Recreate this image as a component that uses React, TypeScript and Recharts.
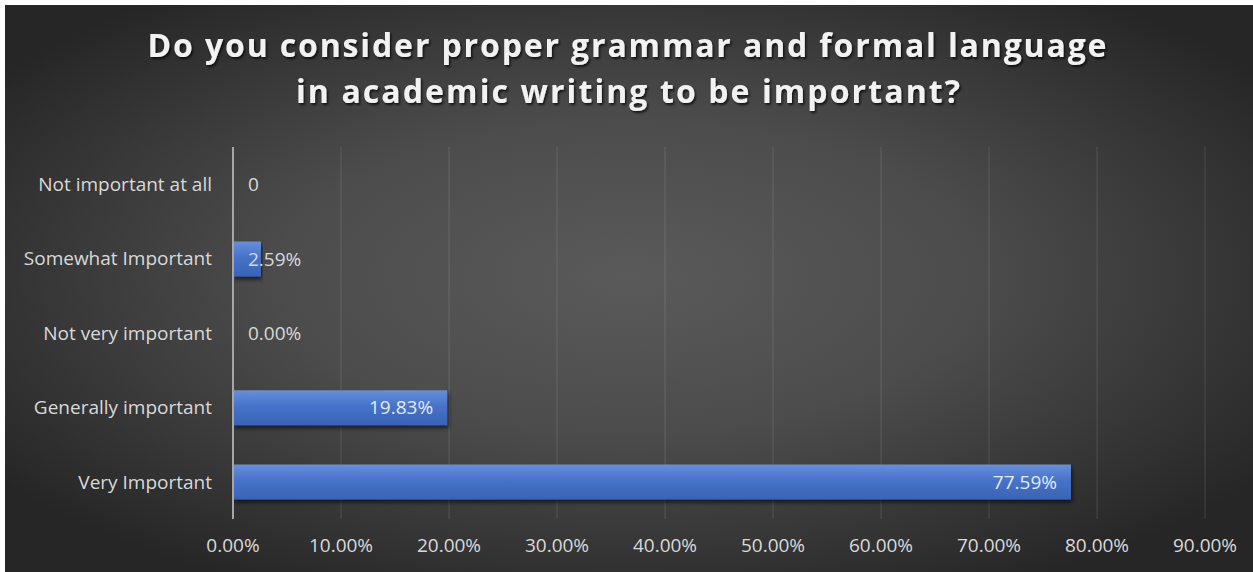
import React from "react";
import { BarChart, Bar, XAxis, YAxis, CartesianGrid, LabelList, Rectangle } from "recharts";

const categories = [
  "Not important at all",
  "Somewhat Important",
  "Not very important",
  "Generally important",
  "Very Important",
];
const values = [0, 0.0259, 0, 0.1983, 0.7759];
const valueLabels = ["0", "2.59%", "0.00%", "19.83%", "77.59%"];
const xTicks = [0, 0.1, 0.2, 0.3, 0.4, 0.5, 0.6, 0.7, 0.8, 0.9];
const titleLines = [
  "Do you consider proper grammar and formal language",
  "in academic writing to be important?",
];

const data = categories.map((c, i) => ({ category: c, value: values[i], label: valueLabels[i] }));

const W = 1253;
const H = 572;
const FONT = "'Open Sans', 'DejaVu Sans', sans-serif";

const renderLabel = (props: any) => {
  const { x, y, width, height, value, index } = props;
  const text = String(value);
  const tw = text.length * 10.8;
  const cy = Number(y) + Number(height) / 2;
  const realZero = values[index] === 0;
  const w = realZero ? 0 : Number(width);
  const fits = w > tw + 24;
  if (fits) {
    return (
      <text x={Number(x) + w - 14} y={cy} dy="0.35em" textAnchor="end"
        fill="#e4ebf7" fontSize={19} fontFamily={FONT}>{text}</text>
    );
  }
  return (
    <text x={Number(x) + 15} y={cy} dy="0.35em" textAnchor="start"
      fill="#d9d9d9" fontSize={19} fontFamily={FONT}>{text}</text>
  );
};

const renderBar = (props: any) => {
  const v = props.payload ? props.payload.value : props.value;
  if (!v) return <g />;
  return <Rectangle {...props} />;
};

export default function App() {
  return (
    <div style={{ position: "absolute", left: 0, top: 0, width: W, height: H, background: "#ffffff" }}>
      <svg width={W} height={H} style={{ position: "absolute", left: 0, top: 0 }}>
        <defs>
          <radialGradient id="bgGrad" cx="50%" cy="48%" r="62%">
            <stop offset="0%" stopColor="#5a5a5a" />
            <stop offset="45%" stopColor="#4c4c4c" />
            <stop offset="100%" stopColor="#262626" />
          </radialGradient>
          <filter id="titleShadow" x="-5%" y="-20%" width="110%" height="140%">
            <feDropShadow dx="1.5" dy="2" stdDeviation="1.2" floodColor="#000" floodOpacity="0.7" />
          </filter>
        </defs>
        <rect x={5} y={5} width={W - 5} height={H - 5} fill="url(#bgGrad)" />
        <g filter="url(#titleShadow)">
          <text x={627} y={57} textAnchor="middle" fill="#f2f2f2" fontSize={32} fontWeight={700}
            fontFamily={FONT} textLength={959} lengthAdjust="spacing">{titleLines[0]}</text>
          <text x={628} y={103} textAnchor="middle" fill="#f2f2f2" fontSize={32} fontWeight={700}
            fontFamily={FONT} textLength={664} lengthAdjust="spacing">{titleLines[1]}</text>
        </g>
      </svg>
      <div style={{ position: "absolute", left: 0, top: 0 }}>
        <BarChart width={W} height={H} data={data} layout="vertical"
          margin={{ top: 147, right: 48, bottom: 3, left: 0 }} barCategoryGap="26%">
          <defs>
            <linearGradient id="barGrad" x1="0" y1="0" x2="0" y2="1">
              <stop offset="0%" stopColor="#6690dc" />
              <stop offset="45%" stopColor="#4673c9" />
              <stop offset="100%" stopColor="#3a63b5" />
            </linearGradient>
            <filter id="barShadow" x="-5%" y="-20%" width="110%" height="160%">
              <feDropShadow dx="1.5" dy="3" stdDeviation="2" floodColor="#000" floodOpacity="0.6" />
            </filter>
          </defs>
          <CartesianGrid horizontal={false} vertical={true} stroke="#ffffff" strokeOpacity={0.13} />
          <XAxis type="number" domain={[0, 0.9]} ticks={xTicks} interval={0}
            tickFormatter={(v: number) => (v * 100).toFixed(2) + "%"}
            axisLine={false} tickLine={false} tickSize={0} tickMargin={20} height={50}
            tick={{ fill: "#d9d9d9", fontSize: 19, fontFamily: FONT }} />
          <YAxis type="category" dataKey="category" width={233}
            axisLine={{ stroke: "#a6a6a6", strokeWidth: 2 }} tickLine={false} tickSize={0} tickMargin={21}
            tick={{ fill: "#d9d9d9", fontSize: 19, fontFamily: FONT }} />
          <Bar dataKey="value" fill="url(#barGrad)" barSize={35} minPointSize={1} isAnimationActive={false}
            shape={renderBar} style={{ filter: "url(#barShadow)" }}>
            <LabelList dataKey="label" content={renderLabel} />
          </Bar>
        </BarChart>
      </div>
    </div>
  );
}
